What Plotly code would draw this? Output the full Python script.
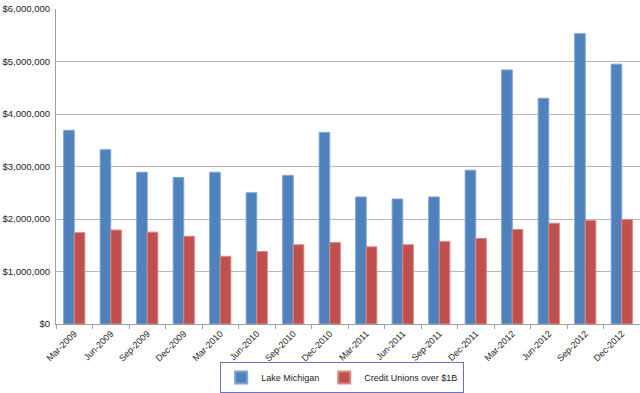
import plotly.graph_objects as go

categories = ["Mar-2009", "Jun-2009", "Sep-2009", "Dec-2009", "Mar-2010", "Jun-2010",
              "Sep-2010", "Dec-2010", "Mar-2011", "Jun-2011", "Sep-2011", "Dec-2011",
              "Mar-2012", "Jun-2012", "Sep-2012", "Dec-2012"]
lake_michigan = [3690000, 3320000, 2890000, 2790000, 2890000, 2500000, 2830000, 3650000,
                 2420000, 2380000, 2420000, 2930000, 4840000, 4300000, 5530000, 4950000]
credit_unions = [1740000, 1790000, 1750000, 1670000, 1290000, 1380000, 1510000, 1550000,
                 1470000, 1510000, 1570000, 1630000, 1800000, 1920000, 1970000, 1990000]
y_ticks = [0, 1000000, 2000000, 3000000, 4000000, 5000000, 6000000]

fig = go.Figure()
fig.add_trace(go.Bar(x=categories, y=lake_michigan, name="Lake Michigan",
                     marker=dict(color="#4F81BD", line=dict(color="#7FA3D3", width=1))))
fig.add_trace(go.Bar(x=categories, y=credit_unions, name="Credit Unions over $1B",
                     marker=dict(color="#C0504D", line=dict(color="#D98784", width=1))))

font_family = "Liberation Sans, Arial, sans-serif"
fig.update_layout(
    width=640, height=393,
    margin=dict(l=56, r=0, t=9, b=69, autoexpand=False),
    paper_bgcolor="white", plot_bgcolor="white",
    barmode="group", bargap=0.42, bargroupgap=0,
    font=dict(family=font_family, size=10, color="#222222"),
    showlegend=True,
    legend=dict(orientation="h", x=0.49, xanchor="center", y=0.0, yanchor="bottom",
                yref="container",
                bordercolor="#7070C0", borderwidth=1, bgcolor="rgba(0,0,0,0)",
                font=dict(size=9, color="#222222"), itemwidth=30,
                tracegroupgap=0, itemsizing="constant", valign="middle"),
    xaxis=dict(type="category", tickangle=-45, tickson="boundaries",
               ticks="outside", ticklen=4, tickcolor="#A0A0A0",
               showline=True, linecolor="#A0A0A0", linewidth=1, automargin=False,
               showgrid=False, tickfont=dict(size=9, color="#222222")),
    yaxis=dict(range=[0, 6000000], tickvals=y_ticks, tickformat="$,.0f",
               showgrid=True, gridcolor="#B8B8B8", gridwidth=1,
               showline=True, linecolor="#A0A0A0", linewidth=1, automargin=False,
               ticks="", zeroline=False, ticklabelstandoff=3,
               tickfont=dict(size=9.5, color="#222222")),
)

fig.write_html("out.html", config={"displayModeBar": False},
               post_script="document.body.style.margin='0';document.body.style.overflow='hidden';")
